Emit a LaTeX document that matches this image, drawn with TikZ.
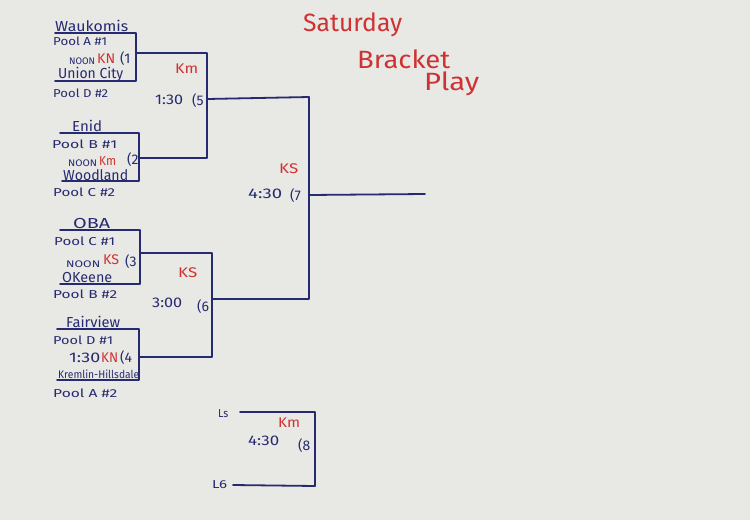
\documentclass[tikz,border=0pt]{standalone}
\usepackage{graphicx}
\usepackage{fontspec}
\setmainfont{Fira Sans}
\definecolor{paper}{RGB}{232,232,228}
\definecolor{ink}{RGB}{38,42,112}
\definecolor{redink}{RGB}{206,50,50}
\newcommand{\hw}[2]{\resizebox{#1pt}{\height}{#2}}
\begin{document}
\begin{tikzpicture}[x=1pt,y=-1pt,
  bline/.style={ink, line width=1.8pt, line join=round, line cap=round},
  lab/.style={inner sep=0, anchor=base west},
  team/.style={lab, text=ink, font=\fontsize{14.5}{14}\selectfont},
  pool/.style={lab, text=ink, font=\fontsize{11.5}{11}\selectfont},
  tm/.style={lab, text=ink, font=\fontsize{14}{13}\selectfont},
  noon/.style={lab, text=ink, font=\fontsize{9.5}{9}\selectfont},
  smalltm/.style={lab, text=ink, font=\fontsize{11}{9}\selectfont},
  redtxt/.style={lab, text=redink, font=\fontsize{14}{13}\selectfont},
  title/.style={lab, text=redink, font=\fontsize{25}{21}\selectfont}]
\fill[paper] (0,0) rectangle (750,520);
\useasboundingbox (0,0) rectangle (750,520);

% title
\node[title] (t1) at (303,31) {\hw{99}{Saturday}};
\node[title] (t2) at (357,68) {\hw{93}{Bracket}};
\node[title] (t3) at (424,90) {\hw{55}{Play}};

% ---- match 1
\coordinate (m1a) at (55,33);  \coordinate (m1b) at (136,33);
\coordinate (m1c) at (136,81); \coordinate (m1d) at (55,81);
\coordinate (m1o) at (136,53);
\draw[bline] (m1a) -- (m1b) -- (m1c) -- (m1d);
\node[team] (wau) at (55,31) {\hw{73}{Waukomis}};
\node[pool] (p1) at (53,45) {\hw{54}{Pool A \#1}};
\node[noon] (n1) at (69,64) {\hw{26}{NOON}};
\node[redtxt] (r1) at (97,63) {\hw{18}{KN}};
\node[tm] (g1) at (120,63) {(1};
\node[team] (uc) at (58,78) {\hw{65}{Union City}};
\node[pool] (p2) at (53,97) {\hw{55}{Pool D \#2}};

% ---- match 2
\coordinate (m2a) at (60,133);  \coordinate (m2b) at (139,133);
\coordinate (m2c) at (139,181); \coordinate (m2d) at (62,181);
\coordinate (m2o) at (139,158);
\draw[bline] (m2a) -- (m2b) -- (m2c) -- (m2d);
\node[team] (enid) at (72,131) {\hw{30}{Enid}};
\node[pool] (p3) at (52,148) {\hw{65}{Pool B \#1}};
\node[noon] (n2) at (68,166) {\hw{29}{NOON}};
\node[redtxt, font=\fontsize{13}{12}\selectfont] (r2) at (99,165) {\hw{17}{Km}};
\node[tm] (g2) at (127,164) {(2};
\node[team] (wood) at (63,180) {\hw{65}{Woodland}};
\node[pool] (p4) at (53,196) {\hw{62}{Pool C \#2}};

% ---- match 3
\coordinate (m3a) at (60,230);  \coordinate (m3b) at (140,230);
\coordinate (m3c) at (140,284); \coordinate (m3d) at (60,284);
\coordinate (m3o) at (140,253);
\draw[bline] (m3a) -- (m3b) -- (m3c) -- (m3d);
\node[team] (oba) at (73,228) {\hw{37}{OBA}};
\node[pool] (p5) at (54,245) {\hw{61}{Pool C \#1}};
\node[noon] (n3) at (66,267) {\hw{34}{NOON}};
\node[redtxt] (r3) at (103,264) {\hw{16}{KS}};
\node[tm] (g3) at (125,266) {(3};
\node[team] (oke) at (62,282) {\hw{50}{OKeene}};
\node[pool] (p6) at (53,298) {\hw{64}{Pool B \#2}};

% ---- match 4
\coordinate (m4a) at (57,329);  \coordinate (m4b) at (139,329);
\coordinate (m4c) at (139,380); \coordinate (m4d) at (57,380);
\coordinate (m4o) at (139,357);
\draw[bline] (m4a) -- (m4b) -- (m4c) -- (m4d);
\node[team] (fair) at (66,327) {\hw{54}{Fairview}};
\node[pool] (p7) at (53,344) {\hw{60}{Pool D \#1}};
\node[tm] (tt4) at (69,362) {\hw{31}{1:30}};
\node[redtxt] (r4) at (101,362) {\hw{17}{KN}};
\node[tm] (g4) at (120,362) {(4};
\node[smalltm] (krem) at (58,378) {\hw{81}{Kremlin-Hillsdale}};
\node[pool] (p8) at (53,397) {\hw{64}{Pool A \#2}};

% ---- match 5 (winners 1 & 2)
\coordinate (m5t) at (207,53); \coordinate (m5b) at (207,158);
\coordinate (m5o) at (207,99);
\draw[bline] (m1o) -- (m5t) -- (m5b) -- (m2o);
\node[redtxt] (r5) at (175,73) {\hw{23}{Km}};
\node[tm] (tt5) at (155,104) {\hw{28}{1:30}};
\node[tm] (g5) at (192,105) {(5};

% ---- match 6 (winners 3 & 4)
\coordinate (m6t) at (212,253); \coordinate (m6b) at (212,357);
\coordinate (m6o) at (212,299);
\draw[bline] (m3o) -- (m6t) -- (m6b) -- (m4o);
\node[redtxt] (r6) at (178,277) {\hw{19}{KS}};
\node[tm] (tt6) at (152,307) {\hw{30}{3:00}};
\node[tm] (g6) at (197,311) {(6};

% ---- match 7 (final)
\coordinate (m7t) at (309,97); \coordinate (m7b) at (309,299);
\coordinate (m7o) at (309,195); \coordinate (fin) at (425,194);
\draw[bline] (m5o) -- (m7t) -- (m7b) -- (m6o);
\draw[bline] (m7o) -- (fin);
\node[redtxt] (r7) at (279,173) {\hw{19}{KS}};
\node[tm] (tt7) at (248,198) {\hw{34}{4:30}};
\node[tm] (g7) at (290,200) {(7};

% ---- match 8 (consolation)
\coordinate (m8a) at (240,412); \coordinate (m8b) at (315,412);
\coordinate (m8c) at (315,486); \coordinate (m8d) at (233,485);
\draw[bline] (m8a) -- (m8b) -- (m8c) -- (m8d);
\node[pool] (l5) at (218,417) {\hw{10}{Ls}};
\node[pool] (l6) at (212,488) {\hw{15}{L6}};
\node[redtxt] (r8) at (278,427) {\hw{22}{Km}};
\node[tm] (tt8) at (248,445) {\hw{31}{4:30}};
\node[tm] (g8) at (298,450) {(8};
\end{tikzpicture}
\end{document}
